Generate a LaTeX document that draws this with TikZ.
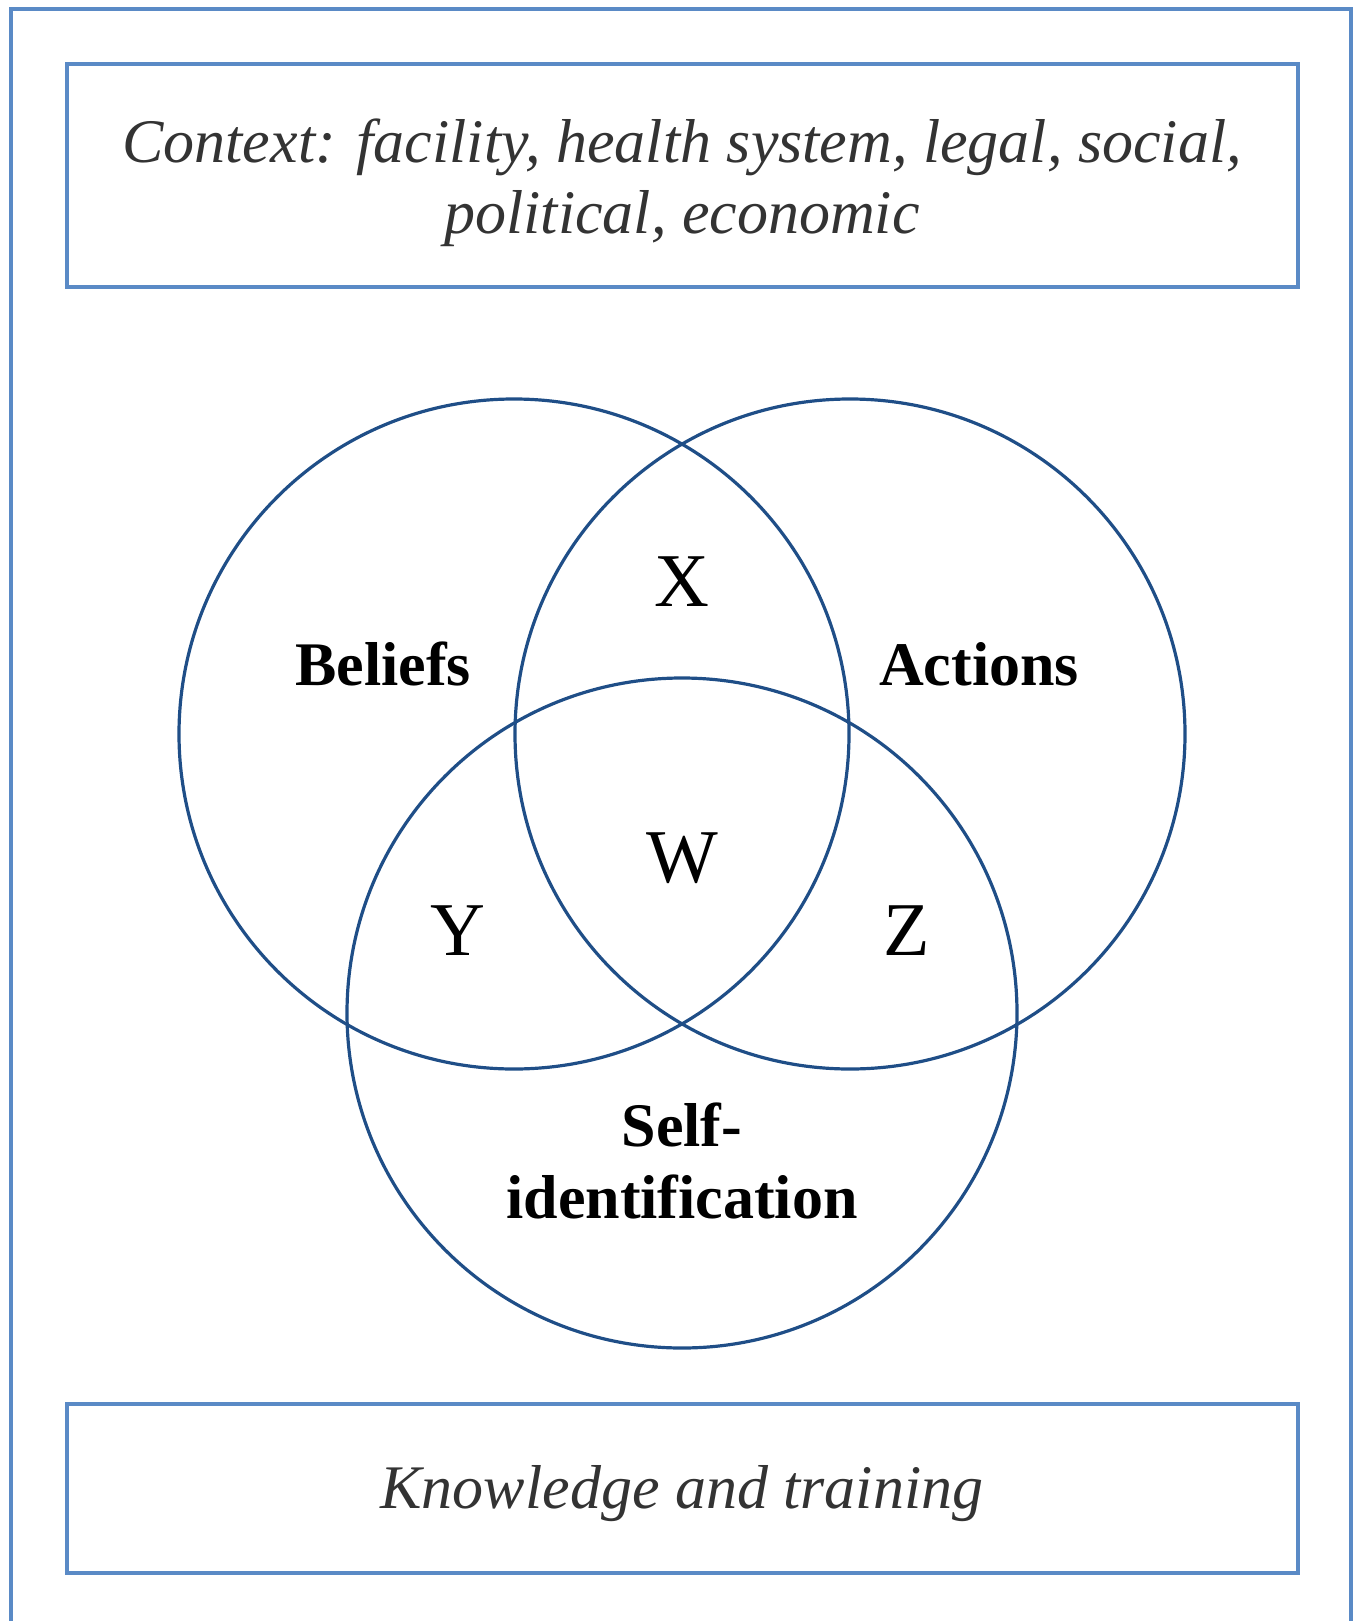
\documentclass[tikz,border=0pt]{standalone}
\usepackage{fontspec}
\setmainfont{Liberation Serif}
\definecolor{boxblue}{HTML}{5A8AC6}
\definecolor{ringblue}{HTML}{1F4E87}
\definecolor{ctxgray}{HTML}{333333}
\tikzset{
  framebox/.style={draw=boxblue, line width=3.6pt},
  ring/.style={circle, draw=ringblue, line width=3.2pt, minimum size=670pt, inner sep=0pt},
  ctxtext/.style={font=\fontsize{62}{71}\selectfont\itshape, text=ctxgray, align=center},
  setlabel/.style={font=\fontsize{62}{72}\selectfont\bfseries, align=center},
  zonelabel/.style={font=\fontsize{76}{78}\selectfont},
}
\begin{document}
\begin{tikzpicture}[x=1pt,y=-1pt]
\useasboundingbox (0,0) rectangle (1358,1621);
% outer frame (open at the bottom)
\draw[framebox] (11,1621) -- (11,9) -- (1351,9) -- (1351,1621);
% top and bottom boxes
\draw[framebox] (67,64) rectangle (1298,287);
\draw[framebox] (67,1404) rectangle (1298,1573);
\node[ctxtext] (ctx) at (682,183) {Context: facility, health system, legal, social,\\political, economic};
\node[ctxtext] (know) at (682,1494) {Knowledge and training};
% circles
\node[ring] (beliefs) at (514,734) {};
\node[ring] (actions) at (850,734) {};
\node[ring] (selfid) at (682,1013) {};
% labels
\node[setlabel] (lb) at (383,664) {Beliefs};
\node[setlabel] (la) at (979,664) {Actions};
\node[setlabel] (ls) at (682,1161) {Self-\\identification};
\node[zonelabel] (x) at (682,582) {X};
\node[zonelabel] (w) at (682,858) {W};
\node[zonelabel] (y) at (458,931) {Y};
\node[zonelabel] (z) at (907,931) {Z};
\end{tikzpicture}
\end{document}
